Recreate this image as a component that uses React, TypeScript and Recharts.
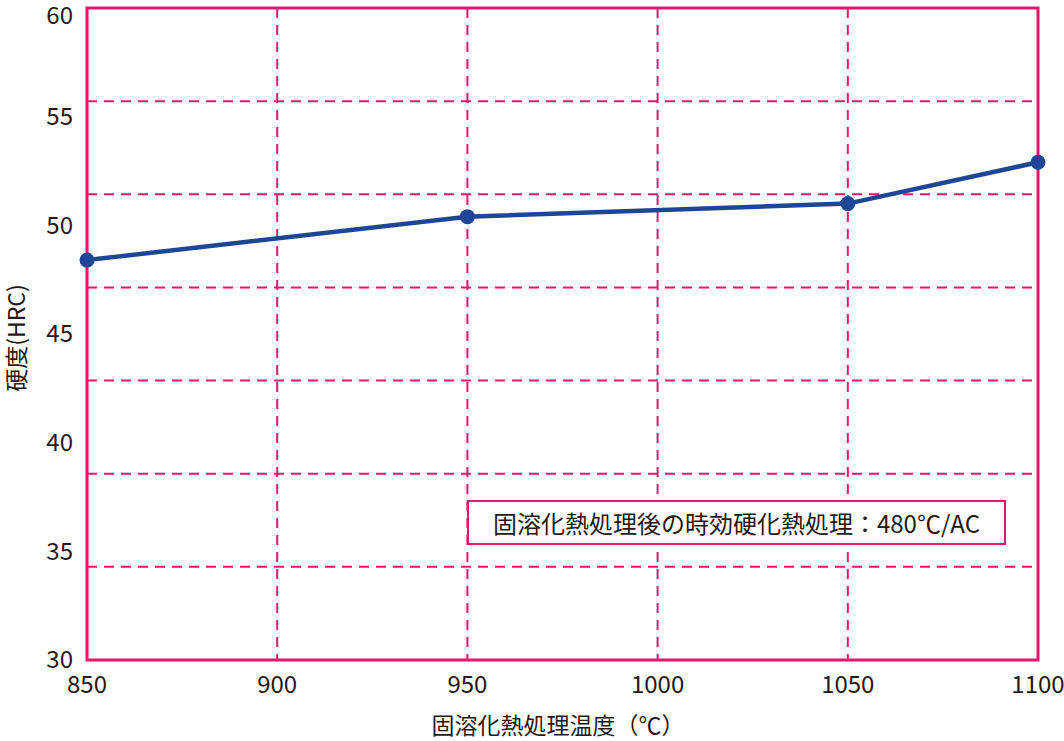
import React from "react";
import {
  LineChart,
  Line,
  XAxis,
  YAxis,
  CartesianGrid,
  ReferenceArea,
} from "recharts";

// solution temperature (°C) and hardness after aging (HRC)
const temps = [850, 950, 1050, 1100];
const hardness = [48.4, 50.4, 51.0, 52.9];

const xTicks = [850, 900, 950, 1000, 1050, 1100];
const yTicks = [30, 35, 40, 45, 50, 55, 60];
// horizontal grid is drawn at sevenths of the range, not at the ticks
const hGrid = [34.29, 38.57, 42.86, 47.14, 51.43, 55.71];
const vGrid = [900, 950, 1000, 1050];

const xTitle = "固溶化熱処理温度（℃）";
const yTitle = "硬度(HRC)";
const note = "固溶化熱処理後の時効硬化熱処理：480℃/AC";

const PINK = "#e5186b";
const BLUE = "#1d4696";
const INK = "#231815";
const FONT = "'Noto Sans CJK JP', 'Noto Sans', sans-serif";

const data = temps.map((t, i) => ({ temp: t, hrc: hardness[i] }));

// y tick, with the top label pushed down a little so it stays in the picture
const YTick = (props: any) => {
  const { x, y, payload } = props;
  const ty = Math.max(y, 16);
  return (
    <text x={x - 6} y={ty} dy="0.35em" textAnchor="end" fontSize={24} fill={INK} fontFamily={FONT}>
      {payload.value}
    </text>
  );
};

const App: React.FC = () => {
  return (
    <div style={{ position: "absolute", left: 0, top: 0, width: 1064, height: 741, background: "#fff", fontFamily: FONT }}>
      <LineChart width={1064} height={741} data={data} margin={{ top: 8, right: 26, left: 0, bottom: 0 }}>
        <CartesianGrid
          stroke={PINK}
          strokeWidth={2}
          strokeDasharray="10 7"
          horizontalValues={hGrid}
          verticalValues={vGrid}
        />
        <XAxis
          dataKey="temp"
          type="number"
          domain={[850, 1100]}
          ticks={xTicks}
          axisLine={false}
          tickLine={false}
          height={81}
          tick={{ fontSize: 24, fill: INK, fontFamily: FONT, dy: 8 }}
          label={{
            content: () => (
              <text x={558} y={734} textAnchor="middle" fontSize={23} fill={INK} fontFamily={FONT}>
                {xTitle}
              </text>
            ),
          }}
        />
        <YAxis
          type="number"
          domain={[30, 60]}
          ticks={yTicks}
          axisLine={false}
          tickLine={false}
          width={87}
          tick={<YTick />}
          label={{
            content: () => (
              <text
                x={0}
                y={0}
                transform="translate(25 338) rotate(-90)"
                textAnchor="middle"
                fontSize={23}
                fill={INK}
                fontFamily={FONT}
              >
                {yTitle}
              </text>
            ),
          }}
        />
        <ReferenceArea
          x1={850}
          x2={1100}
          y1={30}
          y2={60}
          fill="none"
          fillOpacity={0}
          stroke={PINK}
          strokeWidth={3}
          ifOverflow="visible"
        />
        <Line
          type="linear"
          dataKey="hrc"
          stroke={BLUE}
          strokeWidth={4.5}
          dot={{ r: 7.5, fill: BLUE, stroke: BLUE, strokeWidth: 0 }}
          isAnimationActive={false}
        />
      </LineChart>
      <div
        style={{
          position: "absolute",
          left: 467,
          top: 500,
          width: 539,
          height: 45,
          boxSizing: "border-box",
          border: `2px solid ${PINK}`,
          background: "#fff",
          color: INK,
          fontSize: 24,
          display: "flex",
          alignItems: "center",
          justifyContent: "center",
          whiteSpace: "nowrap",
        }}
      >
        {note}
      </div>
    </div>
  );
};

export default App;
